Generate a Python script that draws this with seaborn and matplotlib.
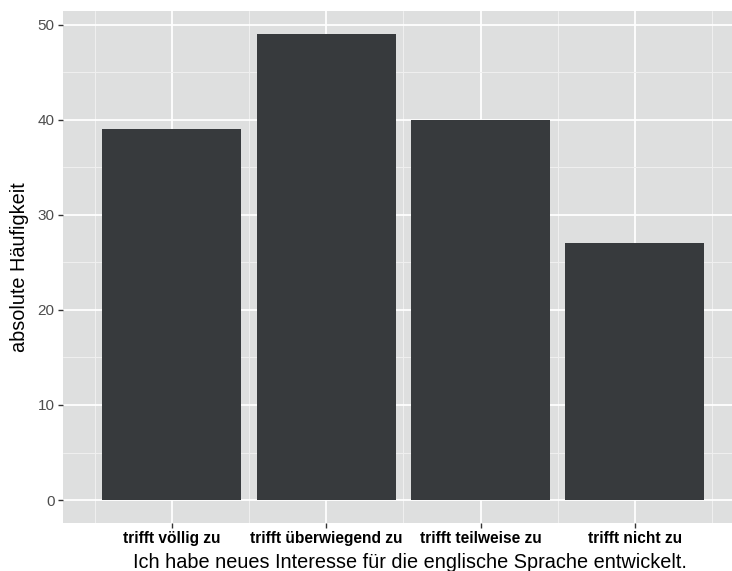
import matplotlib
matplotlib.use("Agg")
import matplotlib.pyplot as plt
import seaborn as sns
import pandas as pd
import numpy as np

categories = ["trifft völlig zu", "trifft überwiegend zu", "trifft teilweise zu", "trifft nicht zu"]
counts = [39, 49, 40, 27]
y_ticks = [0, 10, 20, 30, 40, 50]

df = pd.DataFrame({"antwort": categories, "anzahl": counts})

sns.set_theme(style="darkgrid")
plt.rcParams['font.family'] = ['Liberation Sans', 'DejaVu Sans']

fig = plt.figure(figsize=(7.32, 5.71), dpi=100)
ax = fig.add_axes([63/732, 48/571, 1 - 63/732, 512/571])
ax.set_facecolor("#dedfdf")

sns.barplot(data=df, x="antwort", y="anzahl", color="#373a3d", width=0.9,
            saturation=1, edgecolor="none", ax=ax)

# Gitterlinien wie in ggplot
ax.set_yticks(y_ticks)
ax.set_yticks([5, 15, 25, 35, 45], minor=True)
ax.set_xticks(range(len(categories)))
ax.set_xticks(np.arange(len(categories) + 1) - 0.5, minor=True)
ax.grid(which="major", color="white", linewidth=1.3)
ax.grid(which="minor", color="#f0f0f0", linewidth=0.7)
ax.set_axisbelow(True)

ax.set_xlim(-0.706, 3.63)
ax.set_ylim(-2.42, 51.47)
for s in ax.spines.values():
    s.set_visible(False)

ax.tick_params(axis="both", which="major", length=3.5, width=1, color="#333333",
               direction="out", bottom=True, left=True, pad=2.5)
ax.tick_params(axis="both", which="minor", length=0)
ax.set_yticklabels([str(t) for t in y_ticks], fontsize=11, color="#4d4d4d")
ax.set_xticklabels(categories, fontsize=11.2, fontweight="bold", color="black")

ax.set_xlabel("Ich habe neues Interesse für die englische Sprache entwickelt.",
              fontsize=14.3, color="black")
ax.xaxis.set_label_coords((410 - 63) / 669, -0.059)
ax.set_ylabel("absolute Häufigkeit", fontsize=14.3, color="black", labelpad=6)

fig.savefig("out.png", dpi=100)
